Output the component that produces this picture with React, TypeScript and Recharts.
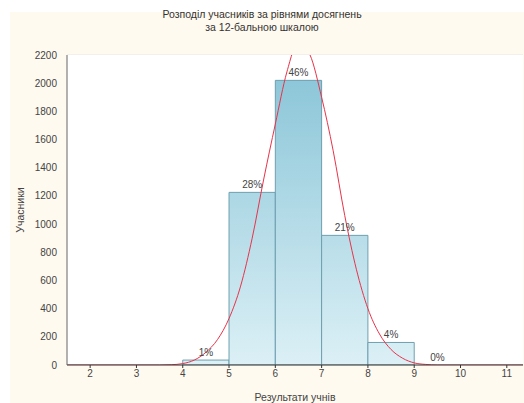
import React from 'react';
import {
  ComposedChart,
  Line,
  XAxis,
  YAxis,
  CartesianGrid,
  ReferenceArea,
  Label
} from 'recharts';

// histogram bins (grade from..to) and pupil counts
const binFrom = [4, 5, 6, 7, 8, 9];
const binTo = [5, 6, 7, 8, 9, 10];
const pupils = [35, 1225, 2020, 920, 160, 0];
const shares = ['1%', '28%', '46%', '21%', '4%', '0%'];

// fitted normal curve
const curveX = [1.5, 3.5, 3.75, 4.0, 4.25, 4.5, 4.75, 5.0, 5.25, 5.5, 5.75, 6.0, 6.25, 6.5, 6.75, 7.0, 7.25, 7.5, 7.75, 8.0, 8.25, 8.5, 8.75, 9.0, 9.25, 9.5, 11.35];
const curveY = [0, 0, 2, 10, 35, 90, 180, 330, 560, 900, 1320, 1710, 2080, 2290, 2200, 1900, 1520, 1060, 680, 400, 220, 110, 48, 15, 4, 0, 0];

const xTicks = [2, 3, 4, 5, 6, 7, 8, 9, 10, 11];
const yTicks = [0, 200, 400, 600, 800, 1000, 1200, 1400, 1600, 1800, 2000, 2200];

const curve = curveX.map((x, i) => ({ x, y: curveY[i] }));

const font = '"Liberation Sans", Arial, sans-serif';
const tickStyle = { fontSize: 10, fill: '#444', fontFamily: font };

export default function App() {
  return (
    <div style={{ position: 'fixed', left: 0, top: 0, width: 524, height: 403, background: '#fff', overflow: 'hidden' }}>
      <div style={{ position: 'absolute', left: 10, top: 12, right: 0, bottom: 0, background: '#fffaef' }} />
      <div
        style={{
          position: 'absolute',
          left: 0,
          top: 8,
          width: 524,
          textAlign: 'center',
          fontFamily: font,
          fontSize: 10.5,
          lineHeight: '13px',
          color: '#333'
        }}
      >
        Розподіл учасників за рівнями досягнень
        <br />
        за 12-бальною шкалою
      </div>
      <div style={{ position: 'absolute', left: 0, top: 0 }}>
        <ComposedChart width={524} height={403} margin={{ top: 55, right: 1, bottom: 0, left: 0 }}>
          <defs>
            <linearGradient id="barFill" gradientUnits="userSpaceOnUse" x1="0" y1="55" x2="0" y2="365">
              <stop offset="0%" stopColor="#86c3d6" />
              <stop offset="100%" stopColor="#dcf0f6" />
            </linearGradient>
          </defs>
          <rect x={67} y={55} width={456} height={310} fill="#fff" />
          <CartesianGrid vertical={false} stroke="#e6e6e6" />
          <XAxis
            xAxisId="top"
            orientation="top"
            type="number"
            dataKey="x"
            domain={[1.5, 11.35]}
            ticks={xTicks}
            allowDataOverflow
            height={0}
            tickSize={3}
            tickFormatter={() => ''}
            stroke="#666"
          />
          <XAxis
            type="number"
            dataKey="x"
            domain={[1.5, 11.35]}
            ticks={xTicks}
            allowDataOverflow
            interval={0}
            height={38}
            tickSize={3}
            tick={tickStyle}
            stroke="#333"
          >
            <Label value="Результати учнів" position="insideBottom" offset={2} style={{ fontSize: 10.5, fill: '#444', fontFamily: font }} />
          </XAxis>
          <YAxis
            type="number"
            domain={[0, 2200]}
            ticks={yTicks}
            allowDataOverflow
            interval={0}
            width={67}
            tickLine={false}
            tick={tickStyle}
            tickMargin={4}
            stroke="#666"
          >
            <Label value="Учасники" angle={-90} position="insideLeft" offset={20} style={{ fontSize: 10.5, fill: '#444', fontFamily: font, textAnchor: 'middle' }} />
          </YAxis>
          {binFrom.map((from, i) => (
            <ReferenceArea
              key={from}
              x1={from}
              x2={binTo[i]}
              y1={0}
              y2={pupils[i]}
              fill="url(#barFill)"
              fillOpacity={1}
              stroke="#6e9fae"
              strokeWidth={1}
              ifOverflow="hidden"
            >
              <Label value={shares[i]} position="top" offset={4} style={{ fontSize: 10, fill: '#444', fontFamily: font }} />
            </ReferenceArea>
          ))}
          <Line
            data={curve}
            dataKey="y"
            type="monotone"
            stroke="#e8334a"
            strokeWidth={1}
            dot={false}
            isAnimationActive={false}
          />
        </ComposedChart>
      </div>
    </div>
  );
}
